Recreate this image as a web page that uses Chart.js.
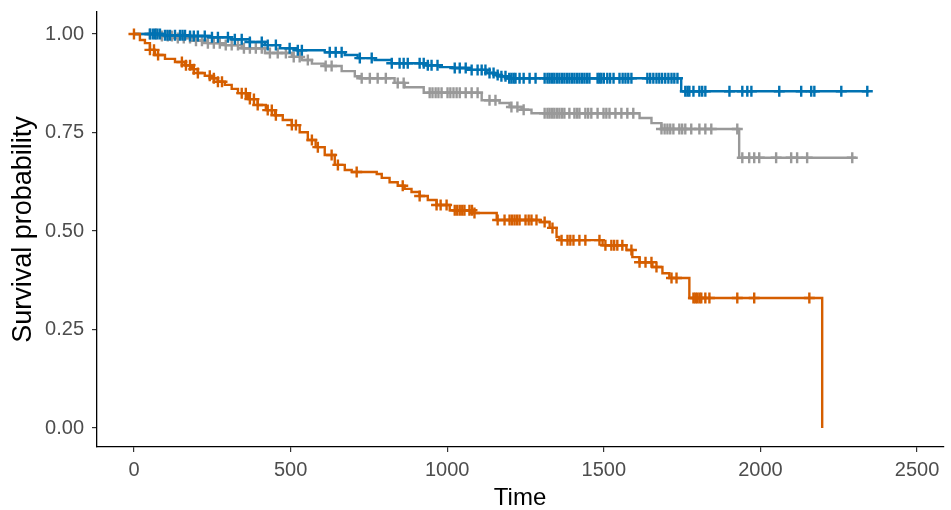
<!DOCTYPE html>
<html>
<head>
<meta charset="utf-8">
<script src="https://cdn.jsdelivr.net/npm/chart.js@4.4.0/dist/chart.umd.min.js"></script>
<style>
  html, body { margin: 0; padding: 0; background: #fff; }
  #wrap { width: 951px; height: 510px; }
</style>
</head>
<body>
<div id="wrap"><canvas id="km"></canvas></div>
<script>
const xTicks = [0, 500, 1000, 1500, 2000, 2500];
const yTicks = [0, 0.25, 0.5, 0.75, 1];

// blue group: time of each step and survival after it (last entry = end of follow-up)
const blueTime = [0, 99, 179, 242, 312, 370, 418, 466, 523, 609, 673, 714, 768, 823, 928, 976, 1017, 1071, 1126, 1151, 1167, 1189, 1747, 2347];
const blueSurv = [1, 0.997, 0.995, 0.992, 0.987, 0.98, 0.972, 0.964, 0.959, 0.954, 0.947, 0.939, 0.934, 0.926, 0.921, 0.916, 0.914, 0.909, 0.901, 0.896, 0.893, 0.888, 0.855, 0.855];
const blueCensor = [51, 60, 67, 75, 83, 99, 107, 115, 131, 147, 155, 163, 179, 191, 204, 226, 249, 268, 300, 322, 344, 370, 408, 427, 453, 497, 523, 536, 625, 644, 663, 721, 759, 823, 848, 861, 874, 912, 925, 938, 950, 969, 1024, 1040, 1059, 1078, 1097, 1110, 1122, 1135, 1148, 1161, 1173, 1186, 1198, 1205, 1212, 1218, 1231, 1244, 1263, 1282, 1311, 1320, 1327, 1335, 1342, 1350, 1358, 1366, 1374, 1382, 1390, 1398, 1406, 1414, 1422, 1430, 1438, 1446, 1454, 1480, 1486, 1492, 1500, 1511, 1520, 1531, 1550, 1560, 1569, 1578, 1588, 1639, 1648, 1658, 1668, 1677, 1686, 1696, 1706, 1716, 1725, 1735, 1760, 1767, 1773, 1786, 1805, 1814, 1824, 1901, 1942, 1958, 1971, 2060, 2130, 2162, 2172, 2258, 2341];

// gray group
const grayTime = [0, 83, 131, 195, 236, 290, 344, 418, 504, 536, 568, 609, 663, 705, 721, 832, 864, 925, 1110, 1167, 1199, 1237, 1269, 1614, 1652, 1684, 1932, 2305];
const graySurv = [1, 0.995, 0.99, 0.983, 0.977, 0.972, 0.964, 0.952, 0.942, 0.934, 0.925, 0.919, 0.906, 0.893, 0.888, 0.876, 0.865, 0.851, 0.832, 0.825, 0.815, 0.808, 0.799, 0.787, 0.774, 0.759, 0.686, 0.686];
const grayCensor = [51, 70, 89, 108, 121, 140, 159, 179, 198, 217, 236, 255, 274, 293, 312, 332, 351, 370, 389, 408, 434, 459, 485, 510, 529, 555, 612, 631, 727, 753, 778, 804, 842, 861, 944, 953, 963, 972, 982, 1001, 1010, 1020, 1030, 1040, 1059, 1078, 1097, 1135, 1154, 1205, 1224, 1244, 1311, 1320, 1327, 1335, 1342, 1350, 1358, 1366, 1374, 1390, 1406, 1414, 1422, 1441, 1450, 1460, 1480, 1499, 1508, 1518, 1537, 1556, 1575, 1594, 1684, 1694, 1703, 1712, 1722, 1741, 1750, 1760, 1779, 1805, 1824, 1843, 1926, 1942, 1964, 1980, 1996, 2050, 2098, 2117, 2149, 2293];

// orange group
const orangeTime = [0, 19, 35, 51, 67, 99, 131, 163, 185, 204, 226, 249, 268, 290, 312, 332, 364, 395, 421, 450, 475, 504, 529, 555, 580, 609, 641, 673, 695, 775, 791, 816, 842, 864, 886, 912, 938, 966, 1008, 1087, 1158, 1295, 1327, 1349, 1358, 1496, 1572, 1591, 1614, 1655, 1687, 1709, 1773, 2197];
const orangeSurv = [1, 0.985, 0.977, 0.96, 0.947, 0.937, 0.929, 0.921, 0.911, 0.901, 0.894, 0.888, 0.879, 0.871, 0.861, 0.85, 0.835, 0.82, 0.807, 0.794, 0.782, 0.769, 0.751, 0.731, 0.713, 0.693, 0.668, 0.655, 0.65, 0.645, 0.635, 0.624, 0.615, 0.607, 0.599, 0.589, 0.579, 0.566, 0.553, 0.546, 0.528, 0.523, 0.508, 0.485, 0.477, 0.464, 0.452, 0.434, 0.421, 0.409, 0.393, 0.381, 0.33, 0];
const orangeCensor = [0, 51, 64, 77, 153, 166, 179, 191, 204, 242, 255, 268, 281, 344, 357, 370, 383, 395, 427, 440, 453, 504, 517, 568, 587, 631, 651, 711, 858, 912, 966, 979, 998, 1024, 1032, 1040, 1048, 1055, 1071, 1079, 1087, 1161, 1183, 1199, 1207, 1215, 1223, 1231, 1250, 1260, 1269, 1285, 1311, 1336, 1365, 1384, 1393, 1403, 1422, 1441, 1486, 1505, 1524, 1533, 1543, 1559, 1588, 1614, 1633, 1652, 1668, 1716, 1732, 1786, 1792, 1798, 1805, 1811, 1824, 1837, 1926, 1980, 2156];

const BLUE = '#0072B2', GRAY = '#999999', ORANGE = '#D55E00';

function survAt(times, surv, t) {
  let s = surv[0];
  for (let i = 0; i < times.length; i++) {
    if (times[i] <= t) s = surv[i];
  }
  return s;
}

function stepLine(times, surv, color) {
  return {
    data: times.map((t, i) => ({ x: t, y: surv[i] })),
    showLine: true,
    stepped: true,
    borderColor: color,
    borderWidth: 2.4,
    pointRadius: 0,
    fill: false,
  };
}

function censorMarks(times, surv, censor, color) {
  return {
    data: censor.map((t) => ({ x: t, y: survAt(times, surv, t) })),
    showLine: false,
    pointStyle: 'cross',
    pointRadius: 5.5,
    pointBorderWidth: 2.4,
    borderColor: color,
    backgroundColor: color,
  };
}

const font = 'Liberation Sans, Arial, sans-serif';

new Chart(document.getElementById('km'), {
  type: 'scatter',
  data: {
    datasets: [
      censorMarks(orangeTime, orangeSurv, orangeCensor, ORANGE),
      stepLine(orangeTime, orangeSurv, ORANGE),
      censorMarks(blueTime, blueSurv, blueCensor, BLUE),
      stepLine(blueTime, blueSurv, BLUE),
      censorMarks(grayTime, graySurv, grayCensor, GRAY),
      stepLine(grayTime, graySurv, GRAY),
    ],
  },
  options: {
    responsive: true,
    maintainAspectRatio: false,
    animation: false,
    layout: { padding: { top: 12, right: 0, left: 0, bottom: 0 } },
    plugins: { legend: { display: false }, tooltip: { enabled: false } },
    scales: {
      x: {
        type: 'linear',
        min: -118,
        max: 2583,
        afterBuildTicks: (axis) => { axis.ticks = xTicks.map((v) => ({ value: v })); },
        afterFit: (axis) => { axis.height = 63; axis.paddingLeft = 0; axis.paddingRight = 0; },
        grid: { drawOnChartArea: false, drawTicks: true, tickLength: 5, color: '#333', lineWidth: 1.2 },
        border: { display: true, color: '#000', width: 1.3 },
        ticks: { color: '#4d4d4d', padding: 6, font: { family: font, size: 20 }, callback: (v) => String(v), maxRotation: 0 },
        title: { display: true, text: 'Time', color: '#000', font: { family: font, size: 24, lineHeight: 1 }, padding: { top: 0, bottom: 0 } },
      },
      y: {
        type: 'linear',
        min: -0.048,
        max: 1.056,
        afterBuildTicks: (axis) => { axis.ticks = yTicks.map((v) => ({ value: v })); },
        afterFit: (axis) => { axis.width = 97; axis.paddingTop = 0; axis.paddingBottom = 0; },
        grid: { drawOnChartArea: false, drawTicks: true, tickLength: 5, color: '#333', lineWidth: 1.2 },
        border: { display: true, color: '#000', width: 1.3 },
        ticks: { color: '#4d4d4d', padding: 8, font: { family: font, size: 20 }, callback: (v) => v.toFixed(2) },
        title: { display: true, text: 'Survival probability', color: '#000', font: { family: font, size: 27 }, padding: { top: 7, bottom: 0 } },
      },
    },
  },
});
</script>
</body>
</html>
